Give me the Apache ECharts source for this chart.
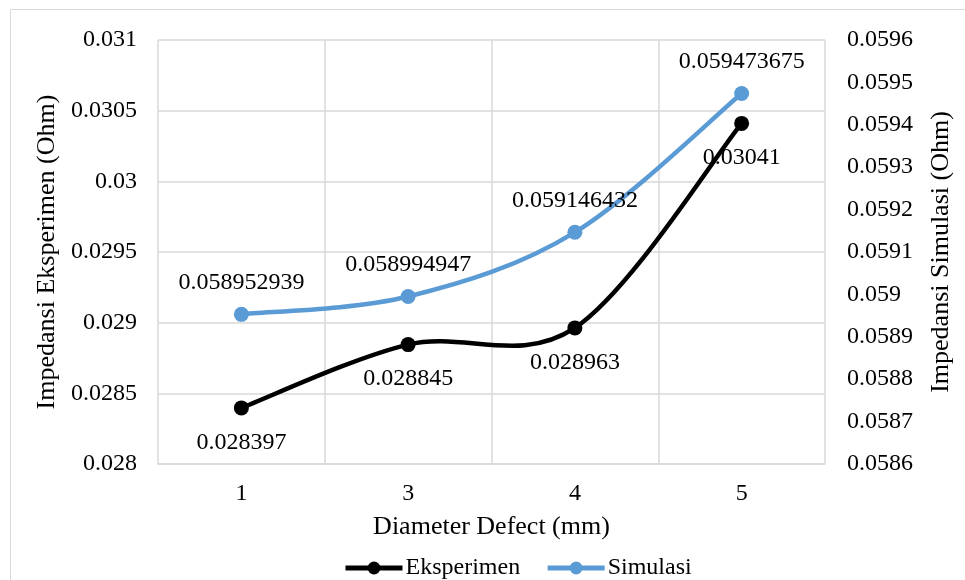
<!DOCTYPE html>
<html>
<head>
<meta charset="utf-8">
<script src="https://cdn.jsdelivr.net/npm/echarts@6/dist/echarts.min.js"></script>
<style>
  html, body { margin: 0; padding: 0; background: #fff; }
  #chart { width: 965px; height: 580px; }
</style>
</head>
<body>
<div id="chart"></div>
<script>
// Diameter defect categories (mm)
const diameters = ['1', '3', '4', '5'];
// Measured impedance (Ohm)
const eksperimen = [0.028397, 0.028845, 0.028963, 0.03041];
// Simulated impedance (Ohm)
const simulasi = [0.058952939, 0.058994947, 0.059146432, 0.059473675];

const FONT = '"Liberation Serif", "Times New Roman", serif';
const BLACK = '#000000';
const BLUE = '#5B9BD5';
const LINE_W = 4.5;

// Catmull-Rom style smoothed curve (tangent = (next - prev) / 6),
// drawn segment by segment through the axis scales.
function smoothCurve(values, color) {
  return function (params, api) {
    const i = params.dataIndex;
    if (i >= values.length - 1) return null;
    const pt = k => {
      const kk = Math.max(0, Math.min(values.length - 1, k));
      return api.coord([kk, values[kk]]);
    };
    const p0 = pt(i - 1), p1 = pt(i), p2 = pt(i + 1), p3 = pt(i + 2);
    const t = 1 / 6;
    return {
      type: 'bezierCurve',
      shape: {
        x1: p1[0], y1: p1[1],
        x2: p2[0], y2: p2[1],
        cpx1: p1[0] + (p2[0] - p0[0]) * t,
        cpy1: p1[1] + (p2[1] - p0[1]) * t,
        cpx2: p2[0] - (p3[0] - p1[0]) * t,
        cpy2: p2[1] - (p3[1] - p1[1]) * t
      },
      style: { fill: null, stroke: color, lineWidth: LINE_W, lineCap: 'round' }
    };
  };
}

const chart = echarts.init(document.getElementById('chart'));

chart.setOption({
  animation: false,
  textStyle: { fontFamily: FONT, color: '#000' },
  graphic: [{
    type: 'rect',
    shape: { x: 10.5, y: 9.5, width: 970, height: 590 },
    style: { fill: 'none', stroke: '#d9d9d9', lineWidth: 1 },
    silent: true
  }],
  grid: { left: 158, right: 140, top: 40, bottom: 116 },
  legend: {
    top: 551,
    left: 338,
    itemWidth: 57,
    itemHeight: 16,
    itemGap: 25,
    textStyle: { fontFamily: FONT, fontSize: 24, color: '#000', padding: [0, 0, 0, -2] },
    lineStyle: { width: 5, opacity: 1 },
    data: ['Eksperimen', 'Simulasi']
  },
  xAxis: {
    type: 'category',
    data: diameters,
    name: 'Diameter Defect (mm)',
    nameLocation: 'middle',
    nameGap: 50,
    nameTextStyle: { fontFamily: FONT, fontSize: 26, color: '#000' },
    axisLine: { lineStyle: { color: '#d9d9d9', width: 1.5 } },
    axisTick: { show: false },
    axisLabel: { fontFamily: FONT, fontSize: 24, color: '#000', margin: 18 },
    splitLine: { show: true, lineStyle: { color: '#d9d9d9', width: 1.5 } }
  },
  yAxis: [{
    type: 'value',
    min: 0.028, max: 0.031, interval: 0.0005,
    name: 'Impedansi Eksperimen (Ohm)',
    nameLocation: 'middle',
    nameGap: 91,
    nameRotate: 90,
    nameTextStyle: { fontFamily: FONT, fontSize: 26, color: '#000' },
    axisLine: { show: false },
    axisTick: { show: false },
    axisLabel: { fontFamily: FONT, fontSize: 24, color: '#000', margin: 21,
      formatter: v => String(+v.toFixed(4)) },
    splitLine: { show: true, lineStyle: { color: '#d9d9d9', width: 1.5 } }
  }, {
    type: 'value',
    min: 0.0586, max: 0.0596, interval: 0.0001,
    name: 'Impedansi Simulasi (Ohm)',
    nameLocation: 'middle',
    nameGap: 103,
    nameRotate: 90,
    nameTextStyle: { fontFamily: FONT, fontSize: 26, color: '#000' },
    axisLine: { show: false },
    axisTick: { show: false },
    axisLabel: { fontFamily: FONT, fontSize: 24, color: '#000', margin: 22,
      formatter: v => String(+v.toFixed(4)) },
    splitLine: { show: false }
  }],
  series: [{
    name: 'Simulasi curve',
    type: 'custom',
    yAxisIndex: 1,
    data: simulasi.map((v, i) => [i, v]),
    encode: { x: 0, y: 1 },
    renderItem: smoothCurve(simulasi, BLUE),
    silent: true,
    z: 2
  }, {
    name: 'Eksperimen curve',
    type: 'custom',
    yAxisIndex: 0,
    data: eksperimen.map((v, i) => [i, v]),
    encode: { x: 0, y: 1 },
    renderItem: smoothCurve(eksperimen, BLACK),
    silent: true,
    z: 2
  }, {
    name: 'Eksperimen',
    type: 'line',
    yAxisIndex: 0,
    data: eksperimen,
    symbol: 'circle',
    symbolSize: 15,
    lineStyle: { color: BLACK, width: LINE_W, opacity: 0 },
    itemStyle: { color: BLACK },
    label: {
      show: true,
      position: 'bottom',
      distance: 15,
      fontFamily: FONT,
      fontSize: 24,
      color: '#000',
      formatter: p => String(p.value)
    },
    z: 3
  }, {
    name: 'Simulasi',
    type: 'line',
    yAxisIndex: 1,
    data: simulasi,
    symbol: 'circle',
    symbolSize: 15,
    lineStyle: { color: BLUE, width: LINE_W, opacity: 0 },
    itemStyle: { color: BLUE },
    label: {
      show: true,
      position: 'top',
      distance: 12,
      fontFamily: FONT,
      fontSize: 24,
      color: '#000',
      formatter: p => String(p.value)
    },
    z: 3
  }]
});
</script>
</body>
</html>
